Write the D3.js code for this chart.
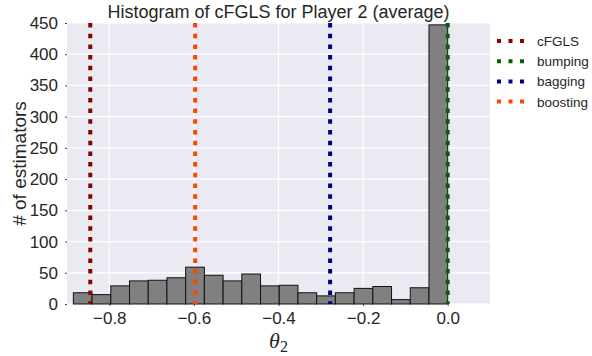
<!DOCTYPE html>
<html>
<head>
    <meta charset="utf-8">
    <title>histogram</title>
    <script src="https://cdn.jsdelivr.net/npm/d3@7"></script>
    <style>
        body { margin: 0; background: #fff; }
        text { font-family: Arial, "Liberation Sans", sans-serif; fill: #262626; }
    </style>
</head>
<body>
    <script>
        // bin counts (20 equal bins)
        var counts = [18, 15, 29, 37, 38, 42, 59, 46, 37, 48, 29, 30, 18, 13, 18, 25, 28, 7, 26, 447];
        var binLo = -0.885,
            binHi = 0.0;

        // vertical reference lines
        var methods = ['cFGLS', 'bumping', 'bagging', 'boosting'];
        var methodValues = [-0.845, 0.0, -0.278, -0.597];
        var methodColors = ['#8B0000', '#006400', '#00008B', '#FF4500'];

        var xTicks = [-0.8, -0.6, -0.4, -0.2, 0.0];
        var yTicks = [0, 50, 100, 150, 200, 250, 300, 350, 400, 450];

        var width = 592,
            height = 356;
        var m = { left: 67, right: 102, top: 23, bottom: 52 };

        var svg = d3.select('body')
            .append('svg')
            .attr('width', width)
            .attr('height', height);

        var x = d3.scaleLinear()
            .domain([-0.9, 0.1])
            .range([m.left, width - m.right]);

        var y = d3.scaleLinear()
            .domain([0, 450])
            .range([height - m.bottom, m.top]);

        // background
        svg.append('rect')
            .attr('x', x.range()[0])
            .attr('y', m.top)
            .attr('width', x.range()[1] - x.range()[0])
            .attr('height', y(0) - m.top)
            .attr('fill', '#EAEAF2');

        // grid lines
        svg.append('g').selectAll('line.gx')
            .data(xTicks)
            .enter().append('line')
            .attr('x1', d => x(d)).attr('x2', d => x(d))
            .attr('y1', m.top).attr('y2', y(0))
            .attr('stroke', '#fff').attr('stroke-width', 1.2);

        svg.append('g').selectAll('line.gy')
            .data(yTicks)
            .enter().append('line')
            .attr('x1', x.range()[0]).attr('x2', x.range()[1])
            .attr('y1', d => y(d)).attr('y2', d => y(d))
            .attr('stroke', '#fff').attr('stroke-width', 1.2);

        // bars
        var bw = (binHi - binLo) / counts.length;
        svg.append('g').selectAll('rect')
            .data(counts)
            .enter().append('rect')
            .attr('x', (d, i) => x(binLo + i * bw))
            .attr('width', x(binLo + bw) - x(binLo))
            .attr('y', d => y(d))
            .attr('height', d => y(0) - y(d))
            .attr('fill', '#808080')
            .attr('stroke', '#111')
            .attr('stroke-width', 1);

        // dashed method lines
        svg.append('g').selectAll('line')
            .data(methodValues)
            .enter().append('line')
            .attr('x1', d => x(d)).attr('x2', d => x(d))
            .attr('y1', m.top).attr('y2', y(0))
            .attr('stroke', (d, i) => methodColors[i])
            .attr('stroke-width', 4)
            .attr('stroke-dasharray', '4.5,6.2');

        // axes
        var xAxis = d3.axisBottom(x)
            .tickValues(xTicks)
            .tickFormat(d => d3.format('.1f')(d).replace('-', '\u2212'))
            .tickSize(2)
            .tickPadding(6);

        var yAxis = d3.axisLeft(y)
            .tickValues(yTicks)
            .tickSize(2)
            .tickPadding(7);

        var gx = svg.append('g')
            .attr('transform', 'translate(0,' + y(0) + ')')
            .call(xAxis);
        var gy = svg.append('g')
            .attr('transform', 'translate(' + m.left + ',0)')
            .call(yAxis);

        [gx, gy].forEach(function (g) {
            g.select('.domain').remove();
            g.selectAll('.tick line').attr('stroke', '#444');
            g.selectAll('.tick text')
                .style('font-family', 'Arial, "Liberation Sans", sans-serif')
                .style('font-size', '17px')
                .attr('fill', '#262626');
        });

        // title
        svg.append('text')
            .attr('x', (x.range()[0] + x.range()[1]) / 2)
            .attr('y', 18)
            .attr('text-anchor', 'middle')
            .style('font-size', '18px')
            .text('Histogram of cFGLS for Player 2 (average)');

        // y label
        svg.append('text')
            .attr('transform', 'translate(26,' + ((m.top + y(0)) / 2) + ') rotate(-90)')
            .attr('text-anchor', 'middle')
            .style('font-size', '19px')
            .text('# of estimators');

        // x label (theta_2)
        var xl = svg.append('text')
            .attr('x', (x.range()[0] + x.range()[1]) / 2)
            .attr('y', 348)
            .attr('text-anchor', 'middle')
            .style('font-family', '"Liberation Serif", "DejaVu Serif", serif');
        xl.append('tspan')
            .style('font-style', 'italic')
            .style('font-size', '22px')
            .text('\u03B8');
        xl.append('tspan')
            .attr('dy', 4)
            .style('font-size', '16px')
            .text('2');

        // legend
        var leg = svg.append('g')
            .attr('transform', 'translate(497,41)');
        var items = leg.selectAll('g')
            .data(methods)
            .enter().append('g')
            .attr('transform', (d, i) => 'translate(0,' + i * 20.2 + ')');
        items.append('line')
            .attr('x1', 0).attr('x2', 27)
            .attr('y1', 0).attr('y2', 0)
            .attr('stroke', (d, i) => methodColors[i])
            .attr('stroke-width', 4)
            .attr('stroke-dasharray', '4,7.5');
        items.append('text')
            .attr('x', 40)
            .attr('y', 5)
            .style('font-size', '13.5px')
            .text(d => d);
    </script>
</body>
</html>
